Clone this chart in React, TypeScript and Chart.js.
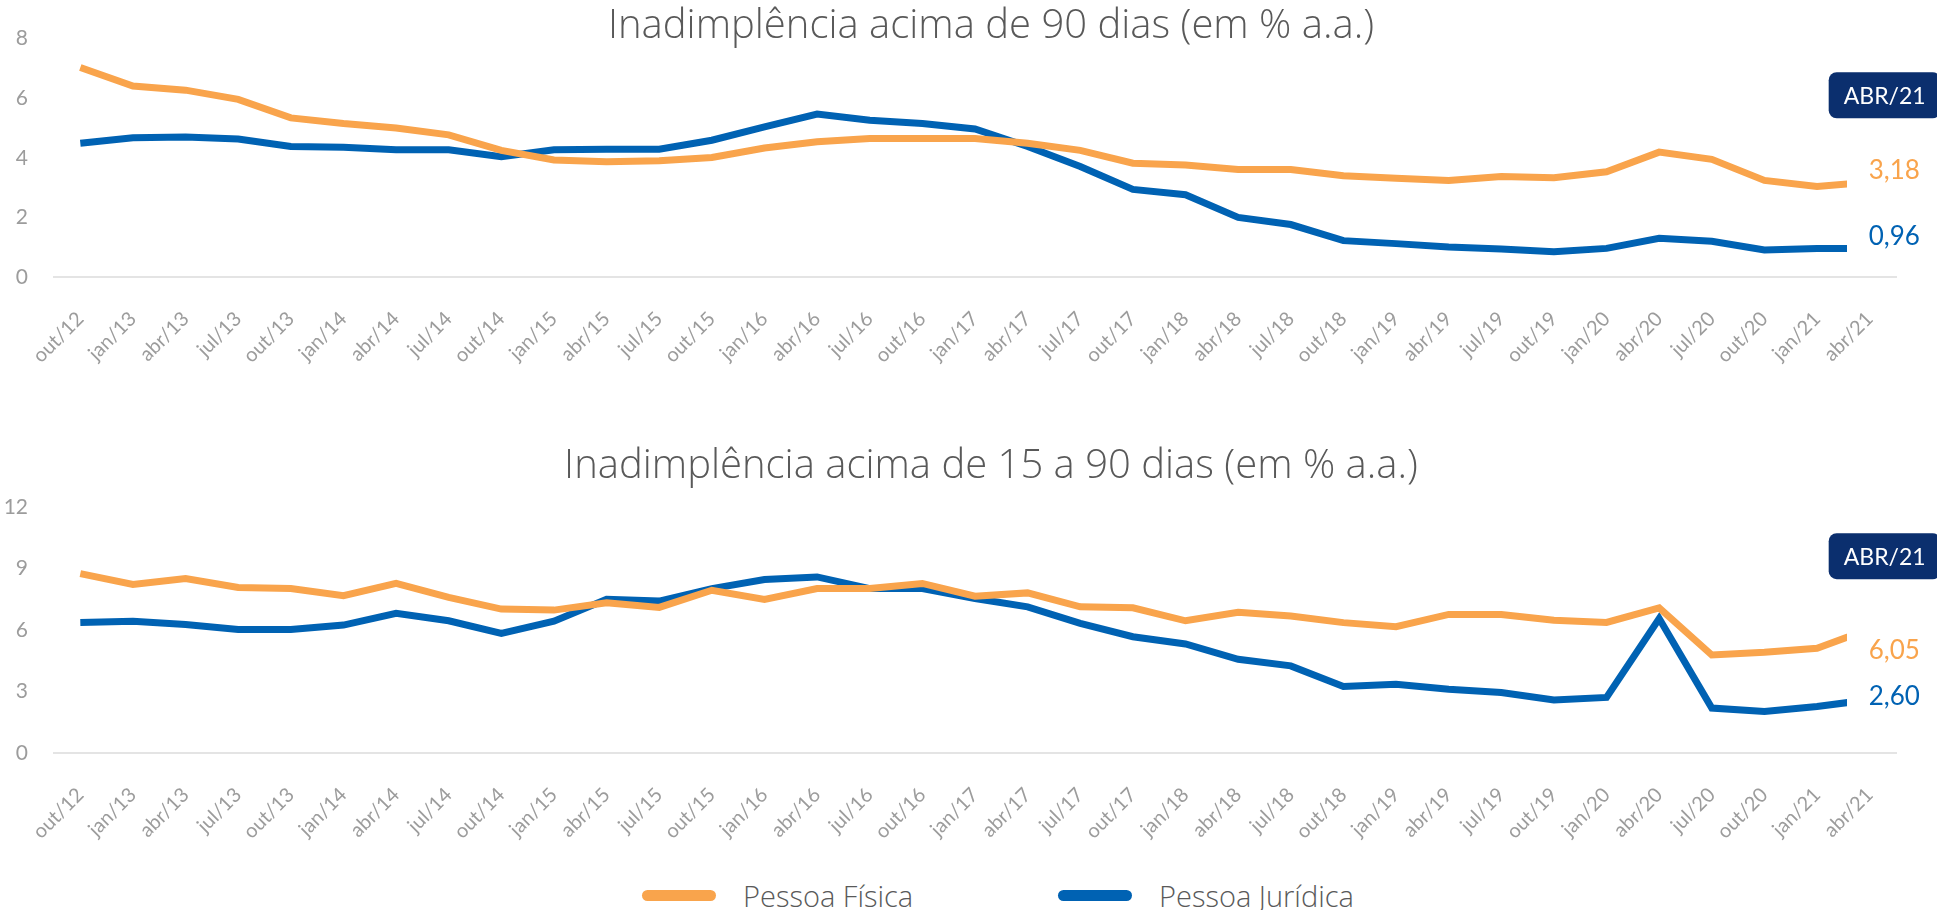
import React, { useEffect, useRef } from "react";
import { Chart, registerables } from "chart.js";

Chart.register(...registerables);

const categories = [
  "out/12", "jan/13", "abr/13", "jul/13", "out/13", "jan/14", "abr/14", "jul/14",
  "out/14", "jan/15", "abr/15", "jul/15", "out/15", "jan/16", "abr/16", "jul/16",
  "out/16", "jan/17", "abr/17", "jul/17", "out/17", "jan/18", "abr/18", "jul/18",
  "out/18", "jan/19", "abr/19", "jul/19", "out/19", "jan/20", "abr/20", "jul/20",
  "out/20", "jan/21", "abr/21",
];

const pf90 = [
  7.03, 6.41, 6.27, 5.96, 5.34, 5.15, 5.0, 4.77, 4.25, 3.93, 3.87, 3.9, 4.01, 4.33,
  4.54, 4.65, 4.65, 4.65, 4.49, 4.25, 3.82, 3.76, 3.61, 3.61, 3.4, 3.31, 3.24, 3.37,
  3.33, 3.53, 4.19, 3.95, 3.24, 3.04, 3.18,
];
const pj90 = [
  4.49, 4.67, 4.7, 4.63, 4.38, 4.35, 4.27, 4.27, 4.04, 4.27, 4.29, 4.29, 4.59, 5.04,
  5.47, 5.26, 5.15, 4.97, 4.38, 3.71, 2.94, 2.76, 2.0, 1.76, 1.22, 1.12, 1.01, 0.94,
  0.85, 0.96, 1.3, 1.2, 0.91, 0.96, 0.96,
];
const pf15 = [
  8.75, 8.22, 8.51, 8.07, 8.02, 7.67, 8.27, 7.59, 7.02, 6.97, 7.33, 7.1, 7.94, 7.49,
  8.02, 8.02, 8.27, 7.65, 7.81, 7.13, 7.08, 6.45, 6.86, 6.68, 6.36, 6.16, 6.76, 6.76,
  6.48, 6.37, 7.08, 4.78, 4.91, 5.11, 6.05,
];
const pj15 = [
  6.37, 6.43, 6.27, 6.03, 6.03, 6.24, 6.81, 6.45, 5.83, 6.43, 7.5, 7.41, 8.02, 8.46,
  8.59, 8.02, 8.02, 7.54, 7.13, 6.32, 5.67, 5.32, 4.57, 4.25, 3.24, 3.35, 3.11, 2.95,
  2.59, 2.71, 6.56, 2.19, 2.03, 2.27, 2.6,
];

const yRange90 = { min: 0, max: 8, step: 2 };
const yRange15 = { min: 0, max: 12, step: 3 };

const seriesNames = ["Pessoa Física", "Pessoa Jurídica"];
const seriesColors = ["#F9A44C", "#0062B3"];
const titles = [
  "Inadimplência acima de 90 dias (em % a.a.)",
  "Inadimplência acima de 15 a 90 dias (em % a.a.)",
];
const lastPeriodLabel = "ABR/21";
const endLabels90 = ["3,18", "0,96"];
const endLabels15 = ["6,05", "2,60"];

const FONT = "Lato, 'Noto Sans', sans-serif";
const TITLE_FONT = "'Open Sans', 'Noto Sans', sans-serif";

const notesPlugin = {
  id: "notes",
  afterDatasetsDraw(chart: any, _args: any, opts: any) {
    const { ctx, chartArea, scales } = chart;
    const xs = scales.x;
    const ys = scales.y;
    const lastIdx = categories.length - 1;
    const tx = xs.getPixelForValue(lastIdx);
    ctx.save();
    // title
    ctx.fillStyle = "#595959";
    ctx.font = `300 40px ${TITLE_FONT}`;
    ctx.textAlign = "center";
    ctx.textBaseline = "middle";
    ctx.fillText(opts.title, (chartArea.left + chartArea.right) / 2 + opts.titleDx, opts.titleY);
    // period box
    const bw = 112;
    const bh = 46;
    const bx = tx - 41;
    const by = ys.getPixelForValue(opts.boxValue) - bh / 2;
    ctx.fillStyle = "#0B2F6E";
    ctx.beginPath();
    (ctx as any).roundRect(bx, by, bw, bh, 8);
    ctx.fill();
    ctx.fillStyle = "#ffffff";
    ctx.font = `23px ${FONT}`;
    ctx.fillText(lastPeriodLabel, bx + bw / 2, by + bh / 2 + 1);
    // end labels
    ctx.textAlign = "left";
    ctx.font = `26px ${FONT}`;
    opts.labels.forEach((l: any, i: number) => {
      const ds = chart.data.datasets[i];
      const v = ds.data[lastIdx];
      ctx.fillStyle = seriesColors[i];
      ctx.fillText(l.text, tx - 1, ys.getPixelForValue(v) + l.dy);
    });
    ctx.restore();
  },
};

function makeConfig(
  a: number[],
  b: number[],
  range: { min: number; max: number; step: number },
  padTop: number,
  xHeight: number,
  notes: any
): any {
  const mk = (data: number[], i: number) => ({
    label: seriesNames[i],
    data,
    borderColor: seriesColors[i],
    backgroundColor: seriesColors[i],
    borderWidth: 7,
    pointRadius: 0,
    tension: 0,
    clip: { left: 10, top: 10, right: -49, bottom: 10 },
  });
  return {
    type: "line",
    data: { labels: categories, datasets: [mk(a, 0), mk(b, 1)] },
    plugins: [notesPlugin],
    options: {
      animation: false,
      responsive: false,
      devicePixelRatio: 1,
      layout: { padding: { top: padTop, left: 0, right: 41, bottom: 0 } },
      plugins: {
        legend: { display: false },
        tooltip: { enabled: false },
        notes,
      },
      scales: {
        x: {
          offset: true,
          grid: { display: false, drawTicks: false },
          border: { display: true, color: "#E4E4E4", width: 2 },
          ticks: {
            autoSkip: false,
            maxRotation: 45,
            minRotation: 45,
            padding: 30,
            color: "#9C9C9C",
            font: { family: FONT, size: 20 },
          },
          afterFit: (s: any) => {
            s.height = xHeight;
          },
        },
        y: {
          min: range.min,
          max: range.max,
          grid: { display: false, drawTicks: false },
          border: { display: false },
          ticks: {
            stepSize: range.step,
            padding: 26,
            color: "#9C9C9C",
            font: { family: FONT, size: 21 },
          },
          afterFit: (s: any) => {
            s.width = 54;
          },
        },
      },
    },
  };
}

export default function App() {
  const ref1 = useRef<HTMLCanvasElement>(null);
  const ref2 = useRef<HTMLCanvasElement>(null);

  useEffect(() => {
    document.body.style.margin = "0";
    const c1 = new Chart(
      ref1.current as HTMLCanvasElement,
      makeConfig(pf90, pj90, yRange90, 27, 143, {
        title: titles[0],
        titleY: 27,
        titleDx: 16,
        boxValue: 6.1,
        labels: [
          { text: endLabels90[0], dy: -12 },
          { text: endLabels90[1], dy: -12 },
        ],
      })
    );
    const c2 = new Chart(
      ref2.current as HTMLCanvasElement,
      makeConfig(pf15, pj15, yRange15, 87, 107, {
        title: titles[1],
        titleY: 47,
        titleDx: 16,
        boxValue: 9.6,
        labels: [
          { text: endLabels15[0], dy: 22 },
          { text: endLabels15[1], dy: -3 },
        ],
      })
    );
    return () => {
      c1.destroy();
      c2.destroy();
    };
  }, []);

  const legendItem = (i: number, width: number) => (
    <div key={i} style={{ display: "flex", alignItems: "center", width }}>
      <div
        style={{
          width: 74,
          height: 11,
          borderRadius: 6,
          background: seriesColors[i],
          marginRight: 27,
        }}
      />
      <span style={{ fontFamily: TITLE_FONT, fontWeight: 300, fontSize: 29, color: "#595959" }}>
        {seriesNames[i]}
      </span>
    </div>
  );

  return (
    <div style={{ position: "relative", width: 1937, height: 910, background: "#fff", overflow: "hidden" }}>
      <canvas ref={ref1} width={1937} height={420} style={{ position: "absolute", left: 0, top: 0 }} />
      <canvas ref={ref2} width={1937} height={440} style={{ position: "absolute", left: 0, top: 420 }} />
      <div
        style={{
          position: "absolute",
          left: 642,
          top: 875,
          height: 40,
          display: "flex",
          alignItems: "center",
        }}
      >
        {legendItem(0, 416)}
        {legendItem(1, 400)}
      </div>
    </div>
  );
}
